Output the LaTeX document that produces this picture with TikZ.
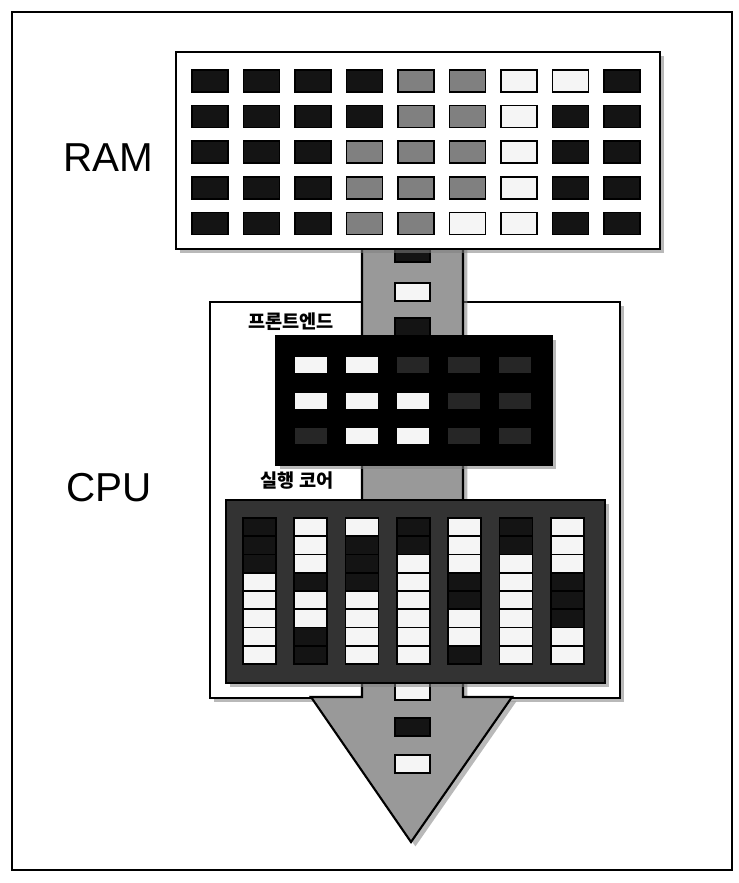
\documentclass[tikz,border=0pt]{standalone}
\usepackage{fontspec}
\setmainfont{Liberation Sans}
\newfontfamily\kfont{Noto Sans CJK KR}
\usetikzlibrary{shadows}

\colorlet{cellk}{black!92}
\colorlet{cellg}{black!50}
\colorlet{cellw}{black!4}
\colorlet{celld}{black!85}
\colorlet{flow}{black!40}

\begin{document}
\begin{tikzpicture}[x=0.02cm,y=-0.02cm,
    cell/.style={draw=black,line width=1pt},
    box/.style={draw=black,line width=1.2pt,drop shadow={shadow xshift=2.5pt,shadow yshift=-2.5pt,opacity=0.55}},
    tag/.style={font=\fontsize{23}{23}\selectfont},
    ktag/.style={font=\kfont\bfseries\fontsize{10.6}{11}\selectfont}]
            \path[use as bounding box] (0,0) rectangle (738,883);
            \draw[line width=1pt] (12,12) rectangle (732,870);

            % cpu with the data flow running through it
            \draw[box,fill=white] (210,302) rectangle (620,698);
            \draw[box,fill=flow] (362,240) -- (362,697) -- (311,697) -- (411,842) -- (512,697) -- (463,697) -- (463,240);
            \foreach[count=\i] \y/\c in {244/k,283/w,318/k,682/w,718/k,755/w} {
                \draw[cell,fill=cell\c] (395,\y) rectangle ++(35,18);
            }

            % memory
            \draw[box,fill=white] (176,52) rectangle (660,249);
            \foreach[count=\r] \row in {{k,k,k,k,g,g,w,w,k},{k,k,k,k,g,g,w,k,k},{k,k,k,g,g,g,w,k,k},{k,k,k,g,g,g,w,k,k},{k,k,k,g,g,w,w,k,k}} {
                \foreach[count=\c] \s in \row {
                    \draw[cell,fill=cell\s] ({192+51.5*(\c-1)},{70+35.6*(\r-1)}) rectangle ++(36,22);
                }
            }

            % front end
            \draw[box,fill=black] (276,336) rectangle (552,465);
            \foreach[count=\r] \row in {{w,w,d,d,d},{w,w,w,d,d},{d,w,w,d,d}} {
                \foreach[count=\c] \s in \row {
                    \fill[cell\s] ({295+51*(\c-1)},{357+35.5*(\r-1)}) rectangle ++(32,16);
                }
            }

            % execution core
            \draw[box,fill=black!80] (226,500) rectangle (605,683);
            \foreach[count=\c] \col in {{k,k,k,w,w,w,w,w},{w,w,w,k,w,w,k,k},{w,k,k,k,w,w,w,w},{k,k,w,w,w,w,w,w},{w,w,w,k,k,w,w,k},{k,k,w,w,w,w,w,w},{w,w,w,k,k,k,w,w}} {
                \foreach[count=\r] \s in \col {
                    \draw[cell,fill=cell\s] ({243+51.3*(\c-1)},{518+18.25*(\r-1)}) rectangle ++(33,18.25);
                }
            }

            \node[tag] (ramtag) at (108,158) {RAM};
            \node[tag] (cputag) at (109,488) {CPU};
            \node[ktag] (fronttag) at (291,322) {프론트엔드};
            \node[ktag] (coretag) at (297,481) {실행 코어};
        \end{tikzpicture}
\end{document}
